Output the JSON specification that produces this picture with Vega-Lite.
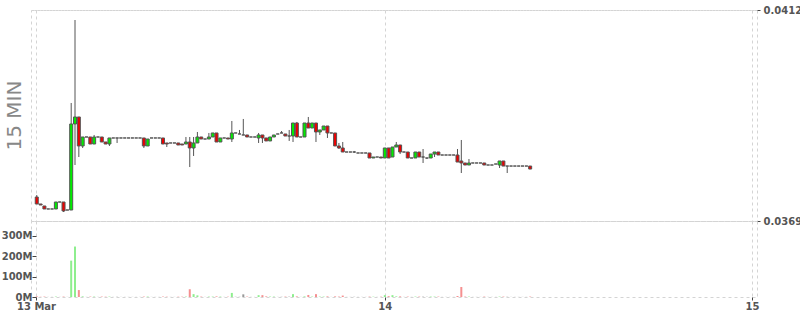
{
 "$schema": "https://vega.github.io/schema/vega-lite/v6.json",
 "padding": {"left": 0, "top": 4, "right": 0, "bottom": 0},
 "background": "white",
 "spacing": 0,
 "bounds": "flush",
 "config": {
  "view": {"stroke": "#d4d4d4", "strokeDash": [3, 3]},
  "axis": {"gridColor": "#d4d4d4", "gridDash": [3, 3], "labelFont": "DejaVu Sans", "labelFontWeight": "bold", "labelFontSize": 10, "labelColor": "#555", "tickColor": "#444", "domain": false, "title": null, "labelOverlap": false, "labelFlush": false}
 },
 "datasets": {
  "k": [
   {"t":"2024-03-13T01:15","o":0.037389,"h":0.03743,"l":0.037247,"c":0.037247,"v":3000000},
   {"t":"2024-03-13T01:30","o":0.037247,"h":0.037247,"l":0.037226,"c":0.037226,"v":1000000},
   {"t":"2024-03-13T01:45","o":0.037206,"h":0.037206,"l":0.037145,"c":0.037145,"v":2000000},
   {"t":"2024-03-13T02:00","o":0.037145,"h":0.037145,"l":0.037145,"c":0.037145,"v":500000},
   {"t":"2024-03-13T02:15","o":0.037145,"h":0.037145,"l":0.037145,"c":0.037145,"v":500000},
   {"t":"2024-03-13T02:30","o":0.037145,"h":0.037287,"l":0.037145,"c":0.037287,"v":2000000},
   {"t":"2024-03-13T02:45","o":0.037287,"h":0.037287,"l":0.037287,"c":0.037287,"v":500000},
   {"t":"2024-03-13T03:00","o":0.037287,"h":0.037287,"l":0.037083,"c":0.037104,"v":2000000},
   {"t":"2024-03-13T03:15","o":0.037124,"h":0.037124,"l":0.037124,"c":0.037124,"v":500000},
   {"t":"2024-03-13T03:30","o":0.037124,"h":0.039305,"l":0.037124,"c":0.038877,"v":178000000},
   {"t":"2024-03-13T03:45","o":0.038877,"h":0.040996,"l":0.038041,"c":0.03902,"v":247000000},
   {"t":"2024-03-13T04:00","o":0.03902,"h":0.03902,"l":0.038204,"c":0.038429,"v":34000000},
   {"t":"2024-03-13T04:15","o":0.038429,"h":0.038612,"l":0.038388,"c":0.038612,"v":3000000},
   {"t":"2024-03-13T04:30","o":0.038612,"h":0.038612,"l":0.038612,"c":0.038612,"v":500000},
   {"t":"2024-03-13T04:45","o":0.038612,"h":0.038612,"l":0.038469,"c":0.038469,"v":2000000},
   {"t":"2024-03-13T05:00","o":0.038469,"h":0.038653,"l":0.038469,"c":0.038612,"v":2000000},
   {"t":"2024-03-13T05:15","o":0.038612,"h":0.038612,"l":0.038612,"c":0.038612,"v":500000},
   {"t":"2024-03-13T05:30","o":0.038612,"h":0.038612,"l":0.03851,"c":0.03851,"v":2000000},
   {"t":"2024-03-13T05:45","o":0.03851,"h":0.03851,"l":0.038469,"c":0.038469,"v":1500000},
   {"t":"2024-03-13T06:00","o":0.038469,"h":0.038592,"l":0.038429,"c":0.038592,"v":2000000},
   {"t":"2024-03-13T06:15","o":0.038592,"h":0.038592,"l":0.038592,"c":0.038592,"v":500000},
   {"t":"2024-03-13T06:30","o":0.038592,"h":0.038592,"l":0.03849,"c":0.038592,"v":1000000},
   {"t":"2024-03-13T06:45","o":0.038592,"h":0.038592,"l":0.038592,"c":0.038592,"v":500000},
   {"t":"2024-03-13T07:00","o":0.038592,"h":0.038592,"l":0.038592,"c":0.038592,"v":500000},
   {"t":"2024-03-13T07:15","o":0.038592,"h":0.038592,"l":0.038592,"c":0.038592,"v":500000},
   {"t":"2024-03-13T07:30","o":0.038592,"h":0.038592,"l":0.038592,"c":0.038592,"v":500000},
   {"t":"2024-03-13T07:45","o":0.038592,"h":0.038592,"l":0.038592,"c":0.038592,"v":500000},
   {"t":"2024-03-13T08:00","o":0.038592,"h":0.038592,"l":0.038592,"c":0.038592,"v":500000},
   {"t":"2024-03-13T08:15","o":0.038592,"h":0.038592,"l":0.038388,"c":0.038429,"v":2000000},
   {"t":"2024-03-13T08:30","o":0.038429,"h":0.038571,"l":0.038429,"c":0.038571,"v":2000000},
   {"t":"2024-03-13T08:45","o":0.038592,"h":0.038592,"l":0.038592,"c":0.038592,"v":500000},
   {"t":"2024-03-13T09:00","o":0.038592,"h":0.038592,"l":0.038592,"c":0.038592,"v":500000},
   {"t":"2024-03-13T09:15","o":0.038592,"h":0.038592,"l":0.038592,"c":0.038592,"v":500000},
   {"t":"2024-03-13T09:30","o":0.038592,"h":0.038592,"l":0.038469,"c":0.038469,"v":2000000},
   {"t":"2024-03-13T09:45","o":0.03849,"h":0.03849,"l":0.038408,"c":0.038469,"v":1500000},
   {"t":"2024-03-13T10:00","o":0.03849,"h":0.03849,"l":0.03849,"c":0.03849,"v":500000},
   {"t":"2024-03-13T10:15","o":0.03849,"h":0.03849,"l":0.03849,"c":0.03849,"v":500000},
   {"t":"2024-03-13T10:30","o":0.03849,"h":0.03849,"l":0.038449,"c":0.038449,"v":1500000},
   {"t":"2024-03-13T10:45","o":0.038469,"h":0.038469,"l":0.038449,"c":0.038449,"v":1500000},
   {"t":"2024-03-13T11:00","o":0.038469,"h":0.038612,"l":0.038469,"c":0.03851,"v":2000000},
   {"t":"2024-03-13T11:15","o":0.03851,"h":0.038612,"l":0.038,"c":0.038388,"v":38000000},
   {"t":"2024-03-13T11:30","o":0.038388,"h":0.038612,"l":0.038225,"c":0.03849,"v":14000000},
   {"t":"2024-03-13T11:45","o":0.03849,"h":0.038714,"l":0.03849,"c":0.038612,"v":8000000},
   {"t":"2024-03-13T12:00","o":0.038612,"h":0.038612,"l":0.038571,"c":0.038571,"v":2000000},
   {"t":"2024-03-13T12:15","o":0.038571,"h":0.038571,"l":0.038571,"c":0.038571,"v":500000},
   {"t":"2024-03-13T12:30","o":0.038571,"h":0.038694,"l":0.038571,"c":0.038612,"v":2000000},
   {"t":"2024-03-13T12:45","o":0.038612,"h":0.038694,"l":0.038612,"c":0.038694,"v":2000000},
   {"t":"2024-03-13T13:00","o":0.038694,"h":0.038694,"l":0.03851,"c":0.03851,"v":3000000},
   {"t":"2024-03-13T13:15","o":0.03851,"h":0.038592,"l":0.03851,"c":0.038592,"v":2000000},
   {"t":"2024-03-13T13:30","o":0.038592,"h":0.038592,"l":0.038592,"c":0.038592,"v":500000},
   {"t":"2024-03-13T13:45","o":0.038592,"h":0.038592,"l":0.038571,"c":0.038571,"v":1500000},
   {"t":"2024-03-13T14:00","o":0.038571,"h":0.038938,"l":0.03851,"c":0.038694,"v":20000000},
   {"t":"2024-03-13T14:15","o":0.038694,"h":0.038694,"l":0.038694,"c":0.038694,"v":1000000},
   {"t":"2024-03-13T14:30","o":0.038673,"h":0.038755,"l":0.038673,"c":0.038673,"v":1000000},
   {"t":"2024-03-13T14:45","o":0.038653,"h":0.038979,"l":0.038653,"c":0.038653,"v":13000000},
   {"t":"2024-03-13T15:00","o":0.038653,"h":0.038653,"l":0.038612,"c":0.038612,"v":2000000},
   {"t":"2024-03-13T15:15","o":0.038612,"h":0.038612,"l":0.038612,"c":0.038612,"v":500000},
   {"t":"2024-03-13T15:30","o":0.038612,"h":0.038612,"l":0.038612,"c":0.038612,"v":500000},
   {"t":"2024-03-13T15:45","o":0.038592,"h":0.038694,"l":0.03849,"c":0.038653,"v":9000000},
   {"t":"2024-03-13T16:00","o":0.038653,"h":0.038653,"l":0.03849,"c":0.038592,"v":9000000},
   {"t":"2024-03-13T16:15","o":0.038592,"h":0.038592,"l":0.038531,"c":0.038531,"v":3000000},
   {"t":"2024-03-13T16:30","o":0.038531,"h":0.038612,"l":0.038531,"c":0.038612,"v":2000000},
   {"t":"2024-03-13T16:45","o":0.038612,"h":0.038653,"l":0.038612,"c":0.038653,"v":2000000},
   {"t":"2024-03-13T17:00","o":0.038673,"h":0.038673,"l":0.038673,"c":0.038673,"v":500000},
   {"t":"2024-03-13T17:15","o":0.038694,"h":0.038734,"l":0.038694,"c":0.038694,"v":1000000},
   {"t":"2024-03-13T17:30","o":0.038673,"h":0.038673,"l":0.038632,"c":0.038632,"v":2000000},
   {"t":"2024-03-13T17:45","o":0.038632,"h":0.038755,"l":0.038531,"c":0.038632,"v":1500000},
   {"t":"2024-03-13T18:00","o":0.038632,"h":0.038897,"l":0.03851,"c":0.038897,"v":14000000},
   {"t":"2024-03-13T18:15","o":0.038897,"h":0.038918,"l":0.038612,"c":0.038612,"v":3000000},
   {"t":"2024-03-13T18:30","o":0.038612,"h":0.038612,"l":0.038612,"c":0.038612,"v":500000},
   {"t":"2024-03-13T18:45","o":0.038612,"h":0.038897,"l":0.038612,"c":0.038897,"v":3000000},
   {"t":"2024-03-13T19:00","o":0.038897,"h":0.03902,"l":0.038795,"c":0.038795,"v":10000000},
   {"t":"2024-03-13T19:15","o":0.038795,"h":0.038897,"l":0.038795,"c":0.038897,"v":2000000},
   {"t":"2024-03-13T19:30","o":0.038897,"h":0.038897,"l":0.03851,"c":0.038714,"v":14000000},
   {"t":"2024-03-13T19:45","o":0.038714,"h":0.038755,"l":0.038653,"c":0.038755,"v":2000000},
   {"t":"2024-03-13T20:00","o":0.038755,"h":0.038836,"l":0.038755,"c":0.038836,"v":2000000},
   {"t":"2024-03-13T20:15","o":0.038836,"h":0.038836,"l":0.038592,"c":0.038694,"v":3000000},
   {"t":"2024-03-13T20:30","o":0.038694,"h":0.038694,"l":0.038694,"c":0.038694,"v":500000},
   {"t":"2024-03-13T20:45","o":0.038694,"h":0.038694,"l":0.038429,"c":0.038429,"v":3000000},
   {"t":"2024-03-13T21:00","o":0.038429,"h":0.03849,"l":0.038367,"c":0.038388,"v":2000000},
   {"t":"2024-03-13T21:15","o":0.038388,"h":0.03851,"l":0.038306,"c":0.038306,"v":7000000},
   {"t":"2024-03-13T21:30","o":0.038306,"h":0.038306,"l":0.038306,"c":0.038306,"v":500000},
   {"t":"2024-03-13T21:45","o":0.038306,"h":0.038306,"l":0.038306,"c":0.038306,"v":500000},
   {"t":"2024-03-13T22:00","o":0.038306,"h":0.038327,"l":0.038286,"c":0.038306,"v":1000000},
   {"t":"2024-03-13T22:15","o":0.038286,"h":0.038286,"l":0.038286,"c":0.038286,"v":500000},
   {"t":"2024-03-13T22:30","o":0.038286,"h":0.038286,"l":0.038286,"c":0.038286,"v":500000},
   {"t":"2024-03-13T22:45","o":0.038286,"h":0.038286,"l":0.038286,"c":0.038286,"v":500000},
   {"t":"2024-03-13T23:00","o":0.038286,"h":0.038286,"l":0.038184,"c":0.038184,"v":2000000},
   {"t":"2024-03-13T23:15","o":0.038184,"h":0.038204,"l":0.038184,"c":0.038204,"v":1500000},
   {"t":"2024-03-13T23:30","o":0.038204,"h":0.038204,"l":0.038204,"c":0.038204,"v":500000},
   {"t":"2024-03-13T23:45","o":0.038204,"h":0.038204,"l":0.038184,"c":0.038184,"v":1500000},
   {"t":"2024-03-14T00:00","o":0.038184,"h":0.038388,"l":0.038184,"c":0.038388,"v":9000000},
   {"t":"2024-03-14T00:15","o":0.038388,"h":0.038388,"l":0.038184,"c":0.038184,"v":4000000},
   {"t":"2024-03-14T00:30","o":0.038204,"h":0.038408,"l":0.038204,"c":0.038408,"v":9000000},
   {"t":"2024-03-14T00:45","o":0.038408,"h":0.03851,"l":0.038408,"c":0.038449,"v":3000000},
   {"t":"2024-03-14T01:00","o":0.038449,"h":0.038449,"l":0.038265,"c":0.038306,"v":3000000},
   {"t":"2024-03-14T01:15","o":0.038306,"h":0.038306,"l":0.038306,"c":0.038306,"v":500000},
   {"t":"2024-03-14T01:30","o":0.038306,"h":0.038306,"l":0.038184,"c":0.038184,"v":2000000},
   {"t":"2024-03-14T01:45","o":0.038184,"h":0.038184,"l":0.038184,"c":0.038184,"v":500000},
   {"t":"2024-03-14T02:00","o":0.038184,"h":0.038306,"l":0.038184,"c":0.038306,"v":2000000},
   {"t":"2024-03-14T02:15","o":0.038306,"h":0.038306,"l":0.038204,"c":0.038204,"v":2000000},
   {"t":"2024-03-14T02:30","o":0.038204,"h":0.038367,"l":0.038082,"c":0.038204,"v":1500000},
   {"t":"2024-03-14T02:45","o":0.038184,"h":0.038184,"l":0.038163,"c":0.038184,"v":1000000},
   {"t":"2024-03-14T03:00","o":0.038184,"h":0.038265,"l":0.038184,"c":0.038265,"v":2000000},
   {"t":"2024-03-14T03:15","o":0.038265,"h":0.038306,"l":0.038204,"c":0.038306,"v":2000000},
   {"t":"2024-03-14T03:30","o":0.038306,"h":0.038306,"l":0.038245,"c":0.038245,"v":2000000},
   {"t":"2024-03-14T03:45","o":0.038245,"h":0.038245,"l":0.038245,"c":0.038245,"v":500000},
   {"t":"2024-03-14T04:00","o":0.038245,"h":0.038245,"l":0.038245,"c":0.038245,"v":500000},
   {"t":"2024-03-14T04:15","o":0.038245,"h":0.038245,"l":0.038245,"c":0.038245,"v":500000},
   {"t":"2024-03-14T04:30","o":0.038245,"h":0.038245,"l":0.038245,"c":0.038245,"v":500000},
   {"t":"2024-03-14T04:45","o":0.038245,"h":0.038367,"l":0.038102,"c":0.038102,"v":5000000},
   {"t":"2024-03-14T05:00","o":0.038123,"h":0.038551,"l":0.037878,"c":0.038082,"v":49000000},
   {"t":"2024-03-14T05:15","o":0.038082,"h":0.038082,"l":0.038041,"c":0.038041,"v":2000000},
   {"t":"2024-03-14T05:30","o":0.038041,"h":0.038163,"l":0.038041,"c":0.038082,"v":2000000},
   {"t":"2024-03-14T05:45","o":0.038082,"h":0.038082,"l":0.038082,"c":0.038082,"v":500000},
   {"t":"2024-03-14T06:00","o":0.038082,"h":0.038082,"l":0.038082,"c":0.038082,"v":500000},
   {"t":"2024-03-14T06:15","o":0.038082,"h":0.038082,"l":0.038082,"c":0.038082,"v":500000},
   {"t":"2024-03-14T06:30","o":0.038082,"h":0.038082,"l":0.038041,"c":0.038041,"v":2000000},
   {"t":"2024-03-14T06:45","o":0.038041,"h":0.038041,"l":0.038041,"c":0.038041,"v":500000},
   {"t":"2024-03-14T07:00","o":0.038041,"h":0.038041,"l":0.038041,"c":0.038041,"v":500000},
   {"t":"2024-03-14T07:15","o":0.038061,"h":0.038061,"l":0.038061,"c":0.038061,"v":500000},
   {"t":"2024-03-14T07:30","o":0.038041,"h":0.038123,"l":0.03798,"c":0.038123,"v":2000000},
   {"t":"2024-03-14T07:45","o":0.038123,"h":0.038123,"l":0.03802,"c":0.03802,"v":2000000},
   {"t":"2024-03-14T08:00","o":0.03802,"h":0.03802,"l":0.037878,"c":0.03802,"v":1000000},
   {"t":"2024-03-14T08:15","o":0.03802,"h":0.03802,"l":0.03802,"c":0.03802,"v":500000},
   {"t":"2024-03-14T08:30","o":0.03802,"h":0.03802,"l":0.03802,"c":0.03802,"v":500000},
   {"t":"2024-03-14T08:45","o":0.03802,"h":0.03802,"l":0.03802,"c":0.03802,"v":500000},
   {"t":"2024-03-14T09:00","o":0.03802,"h":0.03802,"l":0.03802,"c":0.03802,"v":500000},
   {"t":"2024-03-14T09:15","o":0.03802,"h":0.03802,"l":0.03802,"c":0.03802,"v":500000},
   {"t":"2024-03-14T09:30","o":0.03802,"h":0.03802,"l":0.037959,"c":0.037959,"v":2000000}
  ]
 },
 "vconcat": [
  {
   "width": 726,
   "height": 211,
   "title": {"text": "15 MIN", "orient": "left", "anchor": "middle", "font": "DejaVu Sans", "fontSize": 20, "fontWeight": "normal", "color": "#888", "offset": 6},
   "data": {"name": "k"},
   "encoding": {
    "x": {"field": "t", "type": "temporal",
     "scale": {"domain": [{"year": 2024, "month": 3, "date": 13, "hours": 1, "minutes": 12}, {"year": 2024, "month": 3, "date": 15}]},
     "axis": {"values": [{"year": 2024, "month": 3, "date": 13, "hours": 1, "minutes": 12}, {"year": 2024, "month": 3, "date": 14}, {"year": 2024, "month": 3, "date": 15}], "labels": false, "ticks": false, "grid": true}}
   },
   "layer": [
    {
     "mark": {"type": "rule", "color": "#555", "strokeWidth": 1},
     "encoding": {
      "y": {"field": "h", "type": "quantitative", "scale": {"domain": [0.0369, 0.0412], "zero": false, "nice": false},
       "axis": {"orient": "right", "values": [0.0369, 0.0412], "format": ".4f", "grid": true, "tickSize": 3, "labelPadding": 3}},
      "y2": {"field": "l"}
     }
    },
    {
     "mark": {"type": "bar", "size": 3, "stroke": "#555", "strokeWidth": 1},
     "encoding": {
      "y": {"field": "o", "type": "quantitative"},
      "y2": {"field": "c"},
      "fill": {"condition": {"test": "datum.c > datum.o", "value": "#00ee00"}, "value": "#ee0000"}
     }
    }
   ]
  },
  {
   "width": 726,
   "height": 76,
   "data": {"name": "k"},
   "mark": {"type": "bar", "size": 2},
   "encoding": {
    "x": {"field": "t", "type": "temporal",
     "scale": {"domain": [{"year": 2024, "month": 3, "date": 13, "hours": 1, "minutes": 12}, {"year": 2024, "month": 3, "date": 15}]},
     "axis": {"values": [{"year": 2024, "month": 3, "date": 13, "hours": 1, "minutes": 12}, {"year": 2024, "month": 3, "date": 14}, {"year": 2024, "month": 3, "date": 15}], "grid": true, "tickSize": 3, "labelPadding": 1, "labelExpr": "date(datum.value) == 13 ? '13 Mar' : timeFormat(datum.value, '%-d')"}},
    "y": {"field": "v", "type": "quantitative", "scale": {"domain": [0, 372000000], "nice": false},
     "axis": {"orient": "left", "values": [0, 100000000, 200000000, 300000000], "grid": false, "offset": -5, "tickSize": 4, "labelPadding": 0, "labelExpr": "format(datum.value / 1000000, 'd') + 'M'"}},
    "color": {"condition": [{"test": "datum.c > datum.o", "value": "#8eee8e"}, {"test": "datum.c < datum.o", "value": "#f59090"}], "value": "#999"}
   }
  }
 ]
}
